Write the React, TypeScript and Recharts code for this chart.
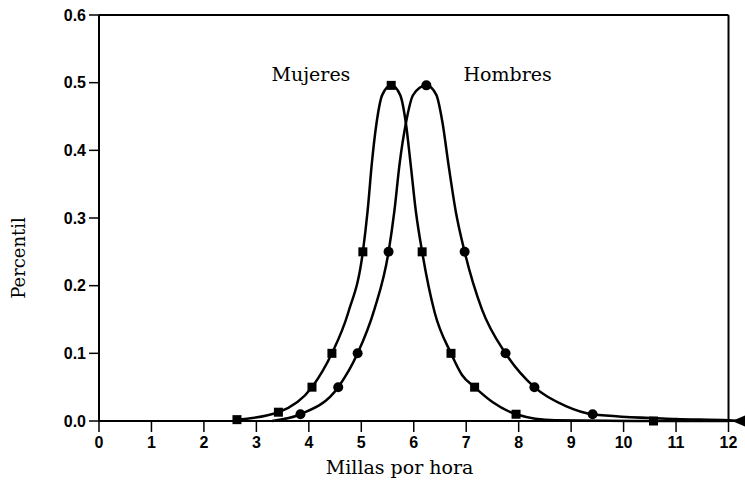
import React from 'react';
import { LineChart, Line, XAxis, YAxis, ReferenceLine, ReferenceDot, Label } from 'recharts';

// Mujeres (women) – squares
const mujeresX = [2.63, 3.42, 4.06, 4.44, 4.75, 5.03, 5.12, 5.2, 5.29, 5.4, 5.57, 5.74, 5.85, 5.94, 6.04, 6.16, 6.4, 6.71, 6.92, 7.16, 7.5, 7.95, 8.7, 10.57, 12];
const mujeresY = [0.002, 0.013, 0.05, 0.1, 0.16, 0.25, 0.31, 0.38, 0.44, 0.482, 0.496, 0.482, 0.44, 0.38, 0.31, 0.25, 0.16, 0.1, 0.068, 0.05, 0.028, 0.01, 0.001, 0, 0];
const mujeresMarker = [1, 1, 1, 1, 0, 1, 0, 0, 0, 0, 1, 0, 0, 0, 0, 1, 0, 1, 0, 1, 0, 1, 0, 1, 0];

// Hombres (men) – circles
const hombresX = [3.3, 3.84, 4.56, 4.93, 5.25, 5.52, 5.63, 5.73, 5.85, 5.99, 6.24, 6.43, 6.55, 6.66, 6.8, 6.97, 7.3, 7.75, 8.3, 8.9, 9.41, 11, 12, 12.2];
const hombresY = [0, 0.01, 0.05, 0.1, 0.165, 0.25, 0.31, 0.38, 0.44, 0.482, 0.496, 0.482, 0.44, 0.38, 0.31, 0.25, 0.165, 0.1, 0.05, 0.022, 0.01, 0.003, 0.001, 0];
const hombresMarker = [0, 2, 2, 2, 0, 2, 0, 0, 0, 0, 2, 0, 0, 0, 0, 2, 0, 2, 2, 0, 2, 0, 0, 3];

const xTicks = [0, 1, 2, 3, 4, 5, 6, 7, 8, 9, 10, 11, 12];
const yTicks = [0, 0.1, 0.2, 0.3, 0.4, 0.5, 0.6];

const build = (xs: number[], ys: number[], ms: number[]) => xs.map((x, i) => ({ x, y: ys[i], m: ms[i] }));
const mujeres = build(mujeresX, mujeresY, mujeresMarker);
const hombres = build(hombresX, hombresY, hombresMarker);

const renderDot = (props: any) => {
  const { cx, cy, payload, index } = props;
  const k = `d-${index}-${cx}`;
  if (cx == null || cy == null) return <g key={k} />;
  if (payload.m === 1) return <rect key={k} x={cx - 4.5} y={cy - 4.5} width={9} height={9} fill="#000" />;
  if (payload.m === 2) return <circle key={k} cx={cx} cy={cy} r={5} fill="#000" />;
  if (payload.m === 3) return <path key={k} d={`M${cx - 7},${cy} L${cx + 6},${cy - 5.5} L${cx + 6},${cy + 5.5} Z`} fill="#000" />;
  return <g key={k} />;
};

const tickStyle = { fontFamily: '"Liberation Sans", Arial, sans-serif', fontWeight: 700, fontSize: 16, fill: '#000' };
const serif = '"DejaVu Serif", "Liberation Serif", serif';

export default function App() {
  return (
    <div style={{ position: 'absolute', left: 0, top: 0, width: 745, height: 489, background: '#fff' }}>
      <LineChart width={745} height={489} margin={{ top: 15, right: 6, left: 0, bottom: 0 }}>
        <XAxis
          type="number"
          dataKey="x"
          domain={[0, 12.2]}
          ticks={xTicks}
          interval={0}
          tick={tickStyle}
          tickSize={11}
          tickMargin={5}
          height={68}
          axisLine={{ stroke: '#000', strokeWidth: 2 }}
          tickLine={{ stroke: '#000', strokeWidth: 1.5 }}
        >
          <Label
            content={(p: any) => {
              const vb = p.viewBox;
              return (
                <text x={vb.x + vb.width * 0.4697} y={vb.y + 53} textAnchor="middle" fontFamily={serif} fontSize={19} fill="#000">
                  Millas por hora
                </text>
              );
            }}
          />
        </XAxis>
        <YAxis
          type="number"
          dataKey="y"
          domain={[0, 0.6]}
          ticks={yTicks}
          interval={0}
          width={99}
          tick={tickStyle}
          tickSize={10}
          tickMargin={3}
          tickFormatter={(v: number) => v.toFixed(1)}
          axisLine={{ stroke: '#000', strokeWidth: 2 }}
          tickLine={{ stroke: '#000', strokeWidth: 1.5 }}
        >
          <Label
            content={(p: any) => {
              const vb = p.viewBox;
              const x = 25;
              const y = vb.y + vb.height / 2 + 40;
              return (
                <text x={x} y={y} transform={`rotate(-90, ${x}, ${y})`} textAnchor="middle" fontFamily={serif} fontSize={18} fill="#000">
                  Percentil
                </text>
              );
            }}
          />
        </YAxis>
        <ReferenceLine segment={[{ x: 0, y: 0.6 }, { x: 12, y: 0.6 }]} stroke="#000" strokeWidth={2} />
        <ReferenceLine x={12} stroke="#000" strokeWidth={2} />
        <Line
          data={mujeres}
          dataKey="y"
          type="monotone"
          stroke="#000"
          strokeWidth={2.5}
          dot={renderDot}
          activeDot={false}
          isAnimationActive={false}
        />
        <Line
          data={hombres}
          dataKey="y"
          type="monotone"
          stroke="#000"
          strokeWidth={2.5}
          dot={renderDot}
          activeDot={false}
          isAnimationActive={false}
        />
        <ReferenceDot
          x={4.04}
          y={0.513}
          r={0}
          fill="none"
          stroke="none"
          label={{ value: 'Mujeres', position: 'center', fontFamily: serif, fontSize: 19, fill: '#000' }}
        />
        <ReferenceDot
          x={7.79}
          y={0.513}
          r={0}
          fill="none"
          stroke="none"
          label={{ value: 'Hombres', position: 'center', fontFamily: serif, fontSize: 19, fill: '#000' }}
        />
      </LineChart>
    </div>
  );
}
